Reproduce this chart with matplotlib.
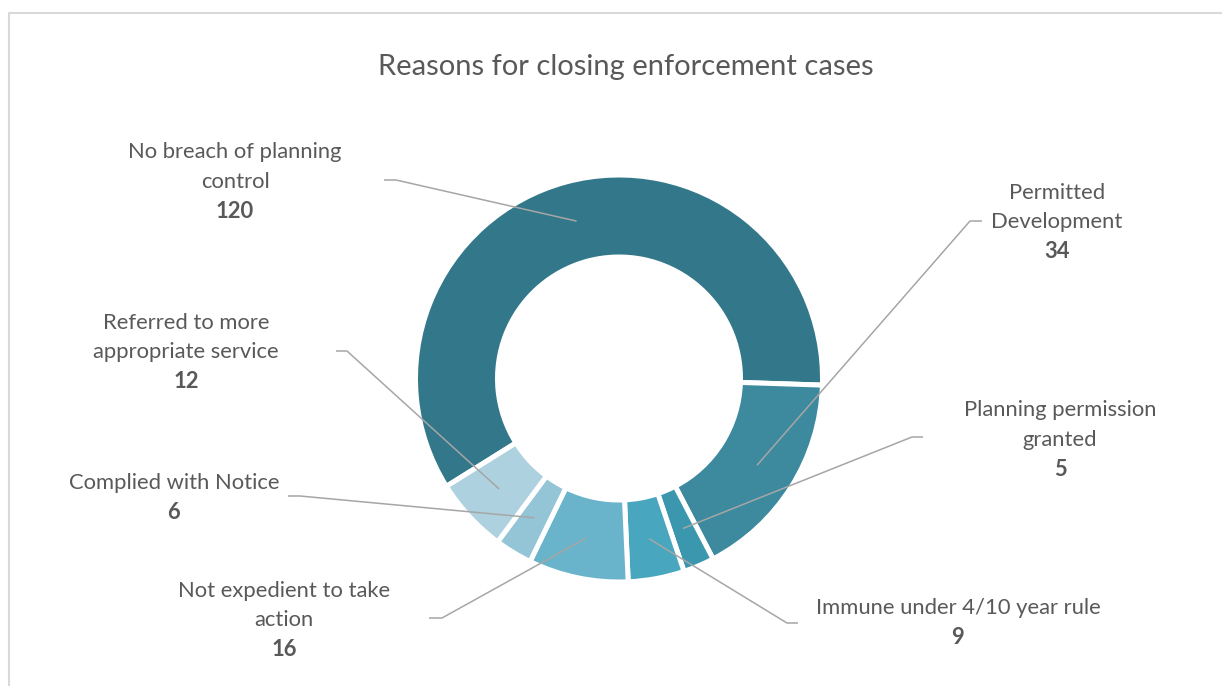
import numpy as np
import matplotlib.pyplot as plt

categories = ["No breach of planning control", "Permitted Development",
              "Planning permission granted", "Immune under 4/10 year rule",
              "Not expedient to take action", "Complied with Notice",
              "Referred to more appropriate service"]
label_lines = [["No breach of planning", "control"],
               ["Permitted", "Development"],
               ["Planning permission", "granted"],
               ["Immune under 4/10 year rule"],
               ["Not expedient to take", "action"],
               ["Complied with Notice"],
               ["Referred to more", "appropriate service"]]
values = [120, 34, 5, 9, 16, 6, 12]
colors = ["#33788A", "#3D8A9F", "#3A97AE", "#48A6BF", "#69B4CB", "#93C5D6", "#ADD1DE"]

W, H = 1222, 686
def Y(y):
    return H - y

# label layout in pixels: (center x, first line y), elbow point, line end
label_pos = [(235, 152), (1057, 193), (1060, 410), (958, 608), (284, 591), (174, 483), (186, 323)]
elbows = [((396, 180), (384, 180)), ((970, 221), (982, 221)), ((912, 437), (923, 437)),
          ((787, 623), (798, 623)), ((442, 618), (429, 618)), ((300, 496), (288, 496)),
          ((347, 351), (336, 351))]

plt.rcParams['font.family'] = ['Lato', 'DejaVu Sans']
fig = plt.figure(figsize=(W / 100, H / 100), dpi=100)
ax = fig.add_axes([0, 0, 1, 1])

cx, cy = 619, Y(378.5)
R = 203.5
wedges, _ = ax.pie(values, colors=colors, startangle=212, counterclock=False,
                   radius=R, center=(cx, cy),
                   wedgeprops=dict(width=R - 121.5, edgecolor='white', linewidth=3.6))
ax.set_xlim(0, W)
ax.set_ylim(0, H)
ax.set_aspect('equal')
ax.axis('off')

text_col = '#595959'
line_col = '#A6A6A6'
pitch = 29.5
for i, w in enumerate(wedges):
    mid = np.deg2rad((w.theta1 + w.theta2) / 2)
    px, py = cx + 163 * np.cos(mid), cy + 163 * np.sin(mid)
    (ex, ey), (tx, ty) = elbows[i]
    ax.plot([px, ex, tx], [py, Y(ey), Y(ty)], color=line_col, lw=1.1, solid_capstyle='butt')
    lx, ly = label_pos[i]
    for k, line in enumerate(label_lines[i]):
        ax.text(lx, Y(ly + k * pitch), line, ha='center', va='center',
                fontsize=15.8, color=text_col)
    ax.text(lx, Y(ly + len(label_lines[i]) * pitch), str(values[i]), ha='center',
            va='center', fontsize=15.8, fontweight='bold', color=text_col)

ax.text(626, Y(67), "Reasons for closing enforcement cases", ha='center', va='center',
        fontsize=21, color=text_col)

# chart frame (left and top edges visible)
ax.plot([8.5, 8.5, W], [0, Y(12.5), Y(12.5)], color='#D9D9D9', lw=1.5)

fig.savefig('out.png', dpi=100)
